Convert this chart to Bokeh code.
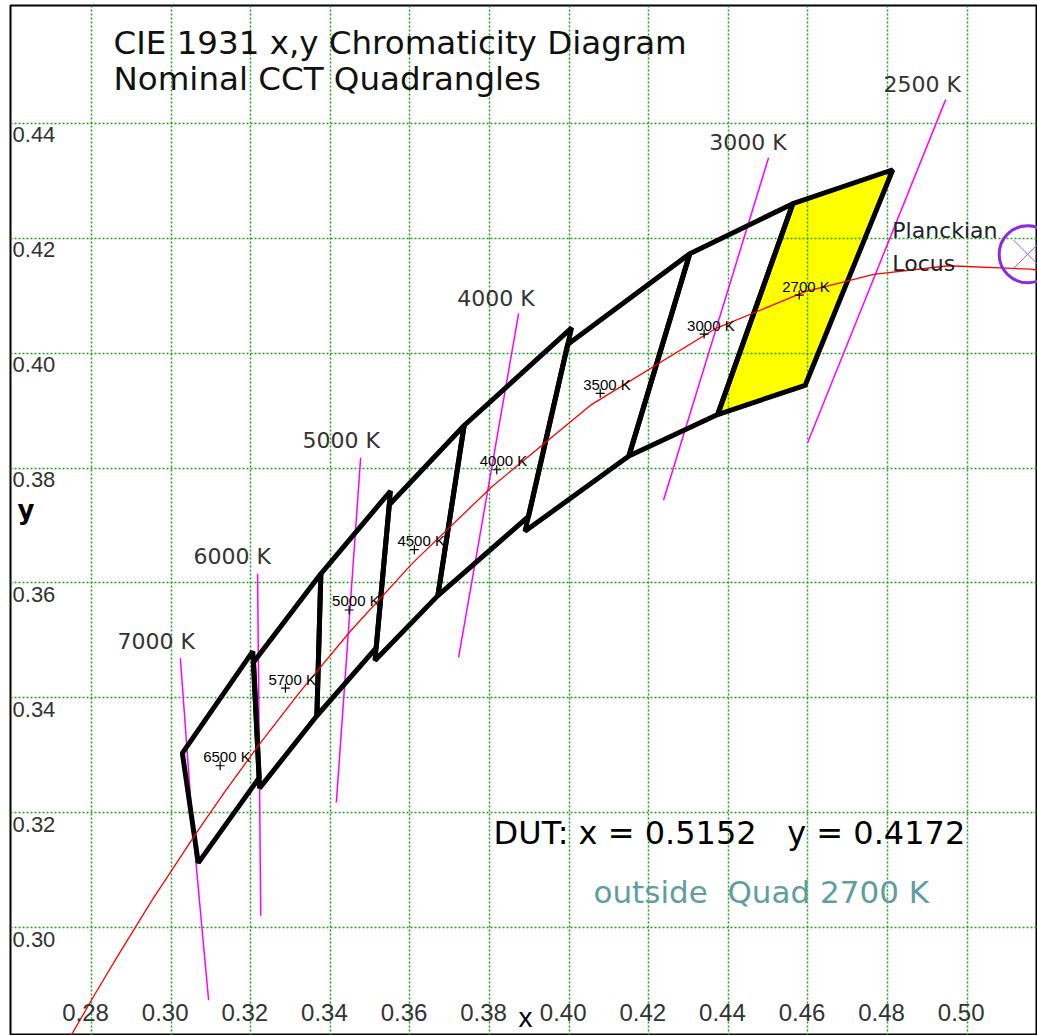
from bokeh.plotting import figure
from bokeh.models import Range1d, Grid, FixedTicker
from bokeh.core.properties import value
from bokeh.embed import file_html
from bokeh.resources import INLINE

# ---------------- data ----------------
x_ticks = [0.28, 0.30, 0.32, 0.34, 0.36, 0.38, 0.40, 0.42, 0.44, 0.46, 0.48, 0.50]
y_ticks = [0.30, 0.32, 0.34, 0.36, 0.38, 0.40, 0.42, 0.44]
x_tick_labels = ["0.28", "0.30", "0.32", "0.34", "0.36", "0.38", "0.40", "0.42", "0.44", "0.46", "0.48", "0.50"]
y_tick_labels = ["0.30", "0.32", "0.34", "0.36", "0.38", "0.40", "0.42", "0.44"]

# Planckian locus (CIE 1931 x,y), T = 2000 ... 12000 K
planck_T = [2000, 2100, 2300, 2500, 2700, 3000, 3500, 4000, 4500, 5000, 5500, 6000, 6500, 7000, 8000, 9000, 10000, 12000]
planck_x = [0.5269, 0.5160, 0.4953, 0.4765, 0.4593, 0.4366, 0.4053, 0.3805, 0.3607, 0.3450, 0.3323, 0.3220, 0.3135, 0.3064, 0.2952, 0.2870, 0.2807, 0.2718]
planck_y = [0.4133, 0.4146, 0.4152, 0.4137, 0.4107, 0.4042, 0.3909, 0.3767, 0.3635, 0.3516, 0.3410, 0.3318, 0.3237, 0.3166, 0.3048, 0.2956, 0.2883, 0.2776]

# Nominal CCT quadrangles
quad_names = ["2700 K", "3000 K", "3500 K", "4000 K", "4500 K", "5000 K", "5700 K", "6500 K"]
quad_xs = [
    [0.4813, 0.4562, 0.4373, 0.4593],
    [0.4562, 0.4303, 0.4150, 0.4373],
    [0.4303, 0.3996, 0.3889, 0.4150],
    [0.4006, 0.3736, 0.3670, 0.3898],
    [0.3736, 0.3548, 0.3512, 0.3670],
    [0.3551, 0.3376, 0.3366, 0.3515],
    [0.3376, 0.3207, 0.3222, 0.3366],
    [0.3205, 0.3028, 0.3068, 0.3221],
]
quad_ys = [
    [0.4319, 0.4260, 0.3893, 0.3944],
    [0.4260, 0.4173, 0.3821, 0.3893],
    [0.4173, 0.4015, 0.3690, 0.3821],
    [0.4044, 0.3874, 0.3578, 0.3716],
    [0.3874, 0.3736, 0.3465, 0.3578],
    [0.3760, 0.3616, 0.3369, 0.3487],
    [0.3616, 0.3462, 0.3243, 0.3369],
    [0.3481, 0.3304, 0.3113, 0.3261],
]
quad_cx = [0.4578, 0.4339, 0.4078, 0.3818, 0.3611, 0.3447, 0.3287, 0.3123]
quad_cy = [0.4101, 0.4033, 0.3930, 0.3797, 0.3658, 0.3553, 0.3417, 0.3282]

# Isotemperature lines
iso_labels = ["7000 K", "6000 K", "5000 K", "4000 K", "3000 K", "2500 K"]
iso_xs = [
    [0.3023, 0.3054, 0.3094],
    [0.3217, 0.3225],
    [0.3476, 0.3415],
    [0.3873, 0.3722],
    [0.4501, 0.4237],
    [0.4946, 0.4599],
]
iso_ys = [
    [0.3469, 0.3175, 0.2874],
    [0.3616, 0.3021],
    [0.3818, 0.3218],
    [0.4069, 0.3470],
    [0.4340, 0.3744],
    [0.4441, 0.3844],
]

# Device under test
dut_x = 0.5152
dut_y = 0.4172
dut_quad = "2700 K"

# ---------------- layout constants ----------------
iso_label_x = [0.2865, 0.3056, 0.3330, 0.3719, 0.4352, 0.4790]
iso_label_y = [0.3498, 0.3646, 0.3848, 0.4095, 0.4367, 0.4468]
NB = "\u00a0"
PX_X = 3980.0   # pixels per x unit
PX_Y = 5747.0   # pixels per y unit

p = figure(width=1037, height=1035,
           x_range=Range1d(0.25962, 0.51767), y_range=Range1d(0.28126, 0.46048),
           x_axis_type=None, y_axis_type=None,
           output_backend="svg", toolbar_location=None,
           min_border_left=10, min_border_right=0, min_border_top=5, min_border_bottom=0)
p.background_fill_color = "white"
p.border_fill_color = "white"
p.outline_line_color = "black"
p.outline_line_width = 2

# filled quad (under grid)
sel = quad_names.index(dut_quad)
p.patch(quad_xs[sel], quad_ys[sel], fill_color="#ffff00", line_color=None, level="image")

grid_col = "#1e9e1e"
p.add_layout(Grid(dimension=0, ticker=FixedTicker(ticks=x_ticks),
                  grid_line_color=grid_col, grid_line_dash="2 2", grid_line_width=1.5))
p.add_layout(Grid(dimension=1, ticker=FixedTicker(ticks=y_ticks),
                  grid_line_color=grid_col, grid_line_dash="2 2", grid_line_width=1.5))

# isotemperature lines
p.multi_line(iso_xs, iso_ys, line_color="#ff00ff", line_width=1.5)

# quadrangles
p.patches(quad_xs, quad_ys, fill_color=None, line_color="black", line_width=5)

# Planckian locus
p.line(planck_x, planck_y, line_color="red", line_width=1.3)

# quad centres
p.scatter(quad_cx, quad_cy, marker="cross", size=9, line_color="black", line_width=1.2)
p.text([cx - 17 / PX_X for cx in quad_cx], [cy + 9 / PX_Y for cy in quad_cy], text=quad_names,
       text_font=value("Liberation Sans"), text_font_size="15px", text_color="black",
       text_baseline="middle", text_align="left")

# iso labels
p.text(iso_label_x, iso_label_y, text=iso_labels, text_font=value("DejaVu Sans"),
       text_font_size="22px", text_color="#333333", text_baseline="middle")

# DUT marker
p.scatter([dut_x], [dut_y], marker="circle", size=57, fill_color=None,
          line_color="#8a2be2", line_width=3)
p.scatter([dut_x], [dut_y], marker="x", size=40, line_color="#9a5cf0", line_width=1)

# Titles / annotations
p.text([0.2855, 0.2855], [0.4539, 0.4477],
       text=["CIE 1931 x,y Chromaticity Diagram", "Nominal CCT Quadrangles"],
       text_font=value("DejaVu Sans"), text_font_size="32.5px", text_color="#111111",
       text_baseline="middle")
p.text([0.4812, 0.4812], [0.4213, 0.4156], text=["Planckian", "Locus"],
       text_font=value("DejaVu Sans"), text_font_size="22px", text_color="#222222",
       text_baseline="middle")
p.text([0.3810], [0.3165], text=[f"DUT: x = {dut_x:.4f}{NB}{NB}{NB}y = {dut_y:.4f}"],
       text_font=value("DejaVu Sans"), text_font_size="32px", text_color="black",
       text_baseline="middle")
p.text([0.4061], [0.3063], text=[f"outside{NB}{NB}Quad {dut_quad}"],
       text_font=value("DejaVu Sans"), text_font_size="31px", text_color="#5f9ea0",
       text_baseline="middle")

# tick labels (drawn inside the frame)
p.text([t - 6 / PX_X for t in x_ticks], [0.28526] * len(x_ticks), text=x_tick_labels,
       text_font=value("Liberation Sans"), text_font_size="24px", text_color="#333333",
       text_align="center", text_baseline="middle")
p.text([0.26013] * len(y_ticks), [t - 4 / PX_Y for t in y_ticks], text=y_tick_labels,
       text_font=value("Liberation Sans"), text_font_size="22px", text_color="#333333",
       text_align="left", text_baseline="top")

# axis titles
p.text([0.38902], [0.28439], text=["x"], text_font=value("Liberation Sans"),
       text_font_size="28px", text_color="black", text_align="center", text_baseline="middle")
p.text([0.26138], [0.37278], text=["y"], text_font=value("DejaVu Sans"),
       text_font_size="26px", text_font_style="bold", text_color="black", text_baseline="middle")

open("out.html", "w").write(file_html(p, INLINE))
